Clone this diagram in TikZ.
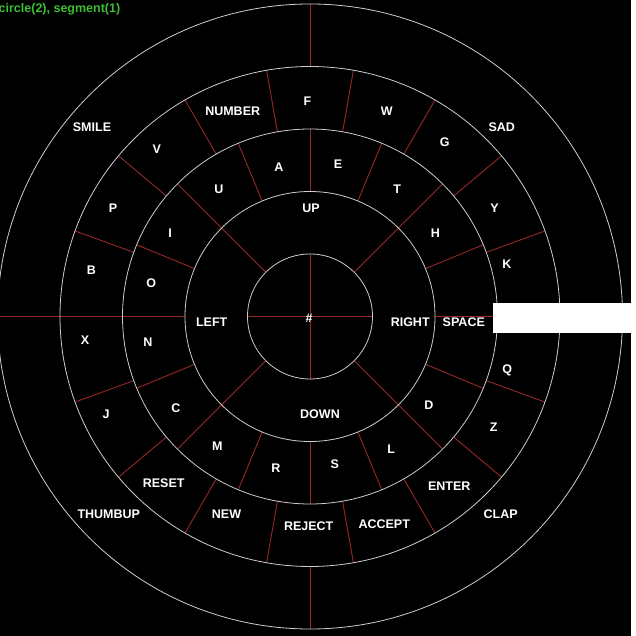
\documentclass[tikz,border=0pt]{standalone}
\usepackage{fontspec}
\setmainfont{Liberation Sans}
\usetikzlibrary{positioning}
\definecolor{spokered}{RGB}{150,40,40}
\definecolor{ringgrey}{RGB}{205,205,205}
\definecolor{titlegreen}{RGB}{60,190,50}

\begin{document}
\begin{tikzpicture}[x=1pt,y=1pt,
    ring/.style={draw=ringgrey,line width=0.8pt},
    spoke/.style={draw=spokered,line width=0.9pt},
    glyph/.style={text=white,font=\fontsize{12.5}{14}\selectfont\bfseries,inner sep=0pt,anchor=center},
]
\useasboundingbox (-310,-319.5) rectangle (326,316.5);
\fill[white] (-310,-319.5) rectangle (326,316.5);
\fill[black] (-310,-319.5) rectangle (321,316.5);
% spokes, ring by ring
\foreach \a in {0,90,...,270}
  \draw[spoke] (0,0) -- (\a:62.5);
\foreach \a in {45,135,...,315}
  \draw[spoke] (\a:62.5) -- (\a:125);
\foreach \a in {0,22.5,...,337.5}
  \draw[spoke] (\a:125) -- (\a:187.5);
\foreach \a in {0,20,...,340}
  \draw[spoke] (\a:187.5) -- (\a:250);
\foreach \a in {0,90,...,270}
  \draw[spoke] (\a:250) -- (\a:312.5);
\foreach \r in {62.5,125,187.5,250,312.5}
  \draw[ring] (0,0) circle[radius=\r pt];
\fill[white] (183,13.5) rectangle (321,-16.5);
% labels
\node[glyph] (hash) at (-1,-1.5) {\#};
\foreach \n/\t/\x/\y in {up/UP/1/108.5,left/LEFT/-98.3/-5.3,right/RIGHT/100.2/-5.3,down/DOWN/10/-97.5}
  \node[glyph] (\n) at (\x,\y) {\t};
\foreach \n/\t/\x/\y in {a/A/-31/149,e/E/28/151.8,t/T/87.3/126.8,h/H/125.5/83.5,space/SPACE/153.8/-5.3,
    d/D/118.8/-88.5,l/L/81.3/-132.8,s/S/24.7/-147.8,r/R/-34.2/-151.2,m/M/-92.7/-129.5,
    c/C/-134.2/-91.8,n/N/-162.2/-26.2,o/O/-158.8/33.2,i/I/-140/83.2,u/U/-91/127.2}
  \node[glyph] (\n) at (\x,\y) {\t};
\foreach \n/\t/\x/\y in {f/F/-2.5/214.8,number/NUMBER/-77.3/205.2,w/W/76.7/205.2,g/G/134.7/173.8,
    y/Y/184.5/107.8,k/K/197/51.8,q/Q/197.2/-54,z/Z/183.8/-110.5,enter/ENTER/139.3/-170,
    accept/ACCEPT/74.2/-207.8,reject/REJECT/-1.3/-210,new/NEW/-83.5/-197.8,reset/RESET/-146.3/-166.7,
    j/J/-204/-97.8,x/X/-225/-23.5,b/B/-218.5/45.8,p/P/-197/108.2,v/V/-153.3/167.5}
  \node[glyph] (\n) at (\x,\y) {\t};
\foreach \n/\t/\x/\y in {smile/SMILE/-218/189.5,sad/SAD/191.7/189.5,thumbup/THUMBUP/-201.2/-197.8,clap/CLAP/190.7/-197.8}
  \node[glyph] (\n) at (\x,\y) {\t};
\node[glyph,text=titlegreen,anchor=base west] (title) at (-311.5,304) {circle(2), segment(1)};
\end{tikzpicture}
\end{document}
